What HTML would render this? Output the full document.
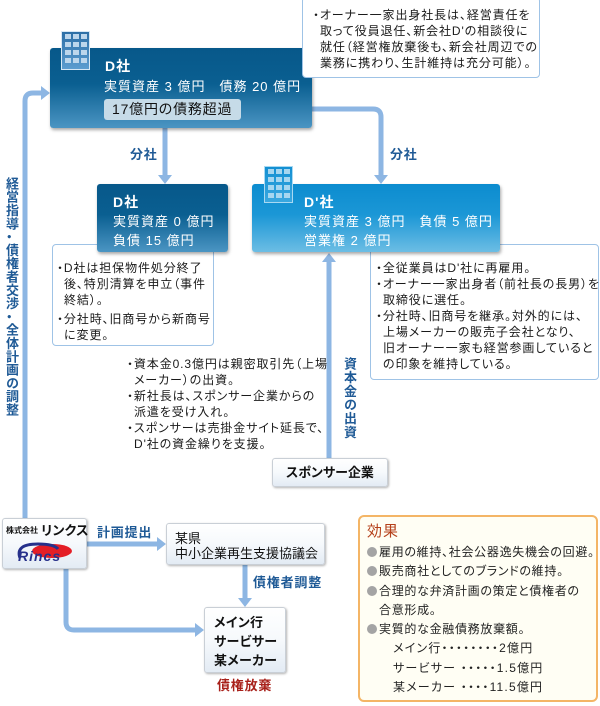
<!DOCTYPE html>
<html><head><meta charset="utf-8">
<style>
*{margin:0;padding:0;box-sizing:border-box}
html,body{width:600px;height:706px;background:#fff;overflow:hidden}
body{position:relative;font-family:"Liberation Sans","Noto Sans CJK JP",sans-serif;color:#222;font-feature-settings:"palt"}
.a{position:absolute;white-space:nowrap}
.dk{background:linear-gradient(#07588a 0%,#0a5f91 45%,#4b95c3 100%);border-radius:3px;box-shadow:1px 2px 3px rgba(0,0,0,.35)}
.lt{background:linear-gradient(#0c8ccf 0%,#1b97d6 45%,#6cbde4 100%);border-radius:3px;box-shadow:1px 2px 3px rgba(0,0,0,.35)}
.wt{color:#fff;font-size:13px;letter-spacing:1px;line-height:18px}
.note{background:#fff;border:1px solid #9fc3e6;border-radius:4px}
.nt{font-size:12px;letter-spacing:.9px;line-height:16px;color:#1a1a1a}
.nt p{padding-left:7px;text-indent:-7px}
.lbl{color:#1f5a96;font-weight:bold;font-size:13px;letter-spacing:.8px;line-height:16px}
.wb{background:linear-gradient(#ffffff 0%,#f6f9fc 50%,#e3ebf4 100%);border:1px solid #c9cfd6;border-radius:3px;box-shadow:1px 1px 2px rgba(0,0,0,.3)}
.bx{font-size:13px;line-height:15px;color:#111}
.ef{font-size:12px;letter-spacing:.7px;line-height:19.3px;color:#222}
.ef .b{display:inline-block;width:10px;height:10px;border-radius:50%;background:#a4a4a4;margin-right:2px;vertical-align:-1px}
</style></head><body>

<svg class="a" style="left:0;top:0" width="600" height="706">
 <defs>
  <linearGradient id="ic1" x1="0" y1="0" x2="0" y2="1"><stop offset="0" stop-color="#2b6ea6"/><stop offset="1" stop-color="#5d9dd0"/></linearGradient>
  <linearGradient id="ic2" x1="0" y1="0" x2="0" y2="1"><stop offset="0" stop-color="#138fd2"/><stop offset="1" stop-color="#3aa8e0"/></linearGradient>
 </defs>
 <g fill="none" stroke="#8db6e3" stroke-width="5">
  <path d="M165 128 V176"/>
  <path d="M312 109 H373 Q381 109 381 117 V176"/>
  <path d="M25 518 V101 Q25 93 33 93 H42"/>
  <path d="M329 458 V261"/>
  <path d="M87 544 H158"/>
  <path d="M245 565 V599"/>
  <path d="M66 569 V622 Q66 630 74 630 H196"/>
 </g>
 <g fill="#8db6e3">
  <polygon points="158,175 172,175 165,184"/>
  <polygon points="374,175 388,175 381,184"/>
  <polygon points="41,86 41,100 50,93"/>
  <polygon points="322,262 336,262 329,253"/>
  <polygon points="157,537 157,551 166,544"/>
  <polygon points="238,598 252,598 245,607"/>
  <polygon points="195,623 195,637 204,630"/>
 </g>
</svg>

<!-- Main D box -->
<div class="a dk" style="left:50px;top:48px;width:262px;height:80px"></div>
<svg class="a" style="left:61px;top:31px" width="30" height="40">
 <rect x="0.5" y="0.5" width="28" height="38" fill="url(#ic1)" stroke="#d6e7f5"/>
 <g fill="#bcd6ec">
  <rect x="4" y="3" width="6" height="5"/><rect x="12" y="3" width="6" height="5"/><rect x="20" y="3" width="6" height="5"/>
  <rect x="4" y="11" width="6" height="5"/><rect x="12" y="11" width="6" height="5"/><rect x="20" y="11" width="6" height="5"/>
  <rect x="4" y="19" width="6" height="5"/><rect x="12" y="19" width="6" height="5"/><rect x="20" y="19" width="6" height="5"/>
  <rect x="4" y="27" width="6" height="5"/><rect x="12" y="27" width="6" height="5"/><rect x="20" y="27" width="6" height="5"/>
 </g>
</svg>
<div class="a wt" style="left:105px;top:57px;font-weight:bold;font-size:14px">D社</div>
<div class="a wt" style="left:104px;top:78px">実質資産 3 億円　債務 20 億円</div>
<div class="a" style="left:104px;top:99px;width:137px;height:21px;background:#c6dbe8;border-radius:3px;font-size:14px;line-height:21px;padding-left:8px;color:#111;letter-spacing:.8px">17億円の債務超過</div>

<!-- top callout -->
<div class="a note" style="left:302px;top:-3px;width:238px;height:81px"></div>
<div class="a nt" style="left:313px;top:7px"><p>・オーナー一家出身社長は、経営責任を<br>取って役員退任、新会社D'の相談役に<br>就任（経営権放棄後も、新会社周辺での<br>業務に携わり、生計維持は充分可能）。</p></div>

<!-- 分社 labels -->
<div class="a lbl" style="left:130px;top:147px">分社</div>
<div class="a lbl" style="left:390px;top:147px">分社</div>

<!-- left vertical label -->
<div class="a lbl" style="left:3px;top:177px;writing-mode:vertical-rl;letter-spacing:0.3px;line-height:16px">経営指導・債権者交渉・全体計画の調整</div>

<!-- left note -->
<div class="a note" style="left:52px;top:244px;width:162px;height:102px"></div>
<div class="a nt" style="left:57px;top:260px"><p>・D社は担保物件処分終了<br>後、特別清算を申立（事件<br>終結）。</p><p style="margin-top:3px">・分社時、旧商号から新商号<br>に変更。</p></div>

<!-- sub D box -->
<div class="a dk" style="left:97px;top:184px;width:131px;height:68px"></div>
<div class="a wt" style="left:113px;top:193px;font-weight:bold;font-size:14px">D社</div>
<div class="a wt" style="left:113px;top:213px">実質資産 0 億円</div>
<div class="a wt" style="left:113px;top:232px">負債 15 億円</div>

<!-- right note -->
<div class="a note" style="left:370px;top:244px;width:229px;height:136px"></div>
<div class="a nt" style="left:376px;top:260px"><p>・全従業員はD'社に再雇用。</p><p>・オーナー一家出身者（前社長の長男）を<br>取締役に選任。</p><p>・分社時、旧商号を継承。対外的には、<br>上場メーカーの販売子会社となり、<br>旧オーナー一家も経営参画していると<br>の印象を維持している。</p></div>

<!-- D' box -->
<div class="a lt" style="left:252px;top:184px;width:248px;height:68px"></div>
<svg class="a" style="left:264px;top:166px" width="30" height="38">
 <rect x="0.5" y="0.5" width="28" height="36" fill="url(#ic2)" stroke="#a9d9f2"/>
 <g fill="#a6d6f0">
  <rect x="4" y="3" width="6" height="5"/><rect x="12" y="3" width="6" height="5"/><rect x="20" y="3" width="6" height="5"/>
  <rect x="4" y="11" width="6" height="5"/><rect x="12" y="11" width="6" height="5"/><rect x="20" y="11" width="6" height="5"/>
  <rect x="4" y="19" width="6" height="5"/><rect x="12" y="19" width="6" height="5"/><rect x="20" y="19" width="6" height="5"/>
  <rect x="4" y="27" width="6" height="5"/><rect x="12" y="27" width="6" height="5"/><rect x="20" y="27" width="6" height="5"/>
 </g>
</svg>
<div class="a wt" style="left:304px;top:193px;font-weight:bold;font-size:14px">D'社</div>
<div class="a wt" style="left:304px;top:213px">実質資産 3 億円　負債 5 億円</div>
<div class="a wt" style="left:304px;top:232px">営業権 2 億円</div>

<!-- middle text -->
<div class="a nt" style="left:127px;top:356px"><p>・資本金0.3億円は親密取引先（上場<br>メーカー）の出資。</p><p>・新社長は、スポンサー企業からの<br>派遣を受け入れ。</p><p>・スポンサーは売掛金サイト延長で、<br>D'社の資金繰りを支援。</p></div>

<div class="a lbl" style="left:341px;top:357px;writing-mode:vertical-rl;letter-spacing:.7px">資本金の出資</div>

<!-- sponsor -->
<div class="a wb" style="left:272px;top:458px;width:116px;height:29px;text-align:center;font-size:13px;font-weight:bold;line-height:27px;color:#111">スポンサー企業</div>

<!-- Lincs -->
<div class="a wb" style="left:2px;top:518px;width:85px;height:51px"></div>
<div class="a" style="left:6px;top:525px;font-size:8px;font-weight:bold;line-height:12px;color:#111">株式会社</div>
<div class="a" style="left:41px;top:523px;font-size:13px;font-weight:bold;line-height:16px;color:#111;letter-spacing:.3px">リンクス</div>
<svg class="a" style="left:12px;top:540px" width="64" height="24">
 <ellipse cx="40" cy="11" rx="20" ry="7" fill="#e41e26"/>
 <path d="M8 18 Q3 4 26 4 Q42 4 46 9" fill="none" stroke="#27318b" stroke-width="3"/>
 <text x="6" y="21" font-family="Liberation Sans, sans-serif" font-size="14" font-weight="bold" font-style="italic" fill="#27318b" letter-spacing="1">Rincs</text>
</svg>

<div class="a lbl" style="left:97px;top:525px">計画提出</div>

<!-- 某県 -->
<div class="a wb" style="left:166px;top:523px;width:159px;height:42px"></div>
<div class="a bx" style="left:175px;top:531px">某県<br>中小企業再生支援協議会</div>

<div class="a lbl" style="left:253px;top:575px">債権者調整</div>

<!-- bank -->
<div class="a wb" style="left:204px;top:607px;width:82px;height:66px"></div>
<div class="a bx" style="left:214px;top:613px;line-height:19px;font-weight:bold;letter-spacing:.3px">メイン行<br>サービサー<br>某メーカー</div>

<div class="a lbl" style="left:217px;top:678px;color:#a8201a">債権放棄</div>

<!-- 効果 -->
<div class="a" style="left:358px;top:515px;width:240px;height:187px;background:#fffef4;border:2px solid #f4b566;border-radius:6px"></div>
<div class="a" style="left:367px;top:522px;font-size:15px;line-height:20px;color:#b5401a;letter-spacing:1px">効果</div>
<div class="a ef" style="left:367px;top:543px">
<span class="b"></span>雇用の維持、社会公器逸失機会の回避。<br>
<span class="b"></span>販売商社としてのブランドの維持。<br>
<span class="b"></span>合理的な弁済計画の策定と債権者の<br>
<span style="padding-left:12px">合意形成。</span><br>
<span class="b"></span>実質的な金融債務放棄額。<br>
<span style="padding-left:26px;letter-spacing:1.2px">メイン行・・・・・・・・2億円</span><br>
<span style="padding-left:26px;letter-spacing:1.2px">サービサー ・・・・・1.5億円</span><br>
<span style="padding-left:26px;letter-spacing:1.2px">某メーカー ・・・・11.5億円</span>
</div>

</body></html>
